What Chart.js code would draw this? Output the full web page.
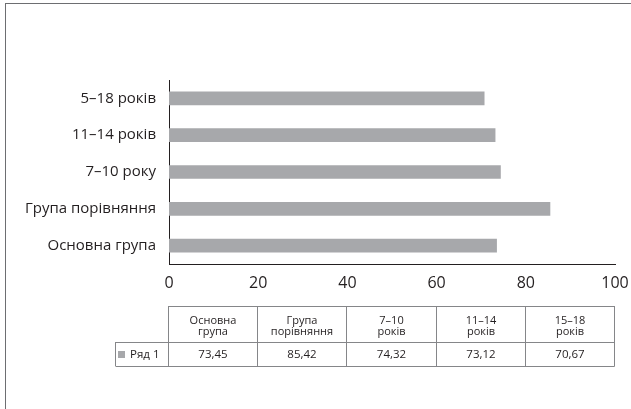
<!DOCTYPE html>
<html>
<head>
<meta charset="utf-8">
<script src="https://cdn.jsdelivr.net/npm/chart.js@4/dist/chart.umd.min.js"></script>
<style>
  html, body { margin: 0; padding: 0; background: #fff; }
  #wrap { position: relative; width: 631px; height: 409px; overflow: hidden; }
  #frame { position: absolute; left: 5px; top: 3px; width: 700px; height: 500px; border: 1px solid #6d6e71; }
</style>
</head>
<body>
<div id="wrap">
  <div id="frame"></div>
  <canvas id="bars" width="631" height="409"></canvas>
</div>
<script>
// chart data
var categories = ["5–18 років", "11–14 років", "7–10 року", "Група порівняння", "Основна група"];
var values = [70.67, 73.12, 74.32, 85.42, 73.45];
var xTicks = [0, 20, 40, 60, 80, 100];

// data table under the axis
var seriesName = "Ряд 1";
var tableHeaders = [["Основна", "група"], ["Група", "порівняння"], ["7–10", "років"], ["11–14", "років"], ["15–18", "років"]];
var tableValues = [73.45, 85.42, 74.32, 73.12, 70.67];

var barColor = "#a7a8ab";
var textColor = "#231f20";
var fontFamily = "'Open Sans', sans-serif";

var dataTablePlugin = {
  id: "dataTable",
  afterDraw: function (chart) {
    var ctx = chart.ctx;
    var x = chart.scales.x;
    var base = chart.chartArea.bottom;
    var top = base + 42, mid = base + 78, bottom = base + 102;
    var cols = xTicks.map(function (t) { return Math.round(x.getPixelForValue(t)) - 0.5; });
    var left = 115.5;

    ctx.save();
    ctx.strokeStyle = "#858689";
    ctx.lineWidth = 1;
    ctx.beginPath();
    ctx.moveTo(cols[0], top + 0.5); ctx.lineTo(cols[cols.length - 1], top + 0.5);
    ctx.moveTo(left, mid + 0.5); ctx.lineTo(cols[cols.length - 1], mid + 0.5);
    ctx.moveTo(left, bottom + 0.5); ctx.lineTo(cols[cols.length - 1], bottom + 0.5);
    ctx.moveTo(left, mid); ctx.lineTo(left, bottom);
    cols.forEach(function (c) { ctx.moveTo(c, top); ctx.lineTo(c, bottom + 0.5); });
    ctx.stroke();

    ctx.fillStyle = textColor;
    ctx.textAlign = "center";
    ctx.textBaseline = "middle";
    for (var i = 0; i < tableHeaders.length; i++) {
      var cx = (cols[i] + cols[i + 1]) / 2;
      ctx.font = "11px " + fontFamily;
      ctx.fillText(tableHeaders[i][0], cx, top + 15);
      ctx.fillText(tableHeaders[i][1], cx, top + 26);
      ctx.font = "11.5px " + fontFamily;
      ctx.fillText(tableValues[i].toFixed(2).replace(".", ","), cx, (mid + bottom) / 2 + 0.5);
    }

    // legend key
    ctx.fillStyle = barColor;
    ctx.fillRect(118, (mid + bottom) / 2 - 3, 7, 7);
    ctx.fillStyle = textColor;
    ctx.textAlign = "left";
    ctx.font = "11.5px " + fontFamily;
    ctx.fillText(seriesName, 130, (mid + bottom) / 2 + 0.5);
    ctx.restore();
  }
};

var ctx = document.getElementById("bars").getContext("2d");
var barChart = new Chart(ctx, {
  type: "bar",
  data: {
    labels: categories,
    datasets: [
      {
        label: seriesName,
        data: values,
        backgroundColor: barColor,
        borderWidth: 0,
        barThickness: 13,
      },
    ],
  },
  options: {
    indexAxis: "y",
    responsive: false,
    animation: false,
    layout: {
      padding: { top: 80, right: 16, bottom: 115, left: 0 },
    },
    plugins: {
      legend: { display: false },
      tooltip: { enabled: false },
    },
    scales: {
      x: {
        min: 0,
        max: 100,
        afterBuildTicks: function (scale) {
          scale.ticks = xTicks.map(function (v) { return { value: v }; });
        },
        afterFit: function (scale) {
          scale.height = 30;
          scale.paddingLeft = 0;
          scale.paddingRight = 0;
        },
        grid: { display: false, drawTicks: false },
        border: { display: true, color: "#231f20", width: 1 },
        ticks: {
          padding: 10,
          color: textColor,
          font: { family: fontFamily, size: 16 },
        },
      },
      y: {
        afterFit: function (scale) { scale.width = 169; },
        grid: { display: false, drawTicks: false },
        border: { display: true, color: "#231f20", width: 1 },
        ticks: {
          padding: 13,
          color: textColor,
          font: { family: fontFamily, size: 15 },
        },
      },
    },
  },
  plugins: [dataTablePlugin],
});
</script>
</body>
</html>
